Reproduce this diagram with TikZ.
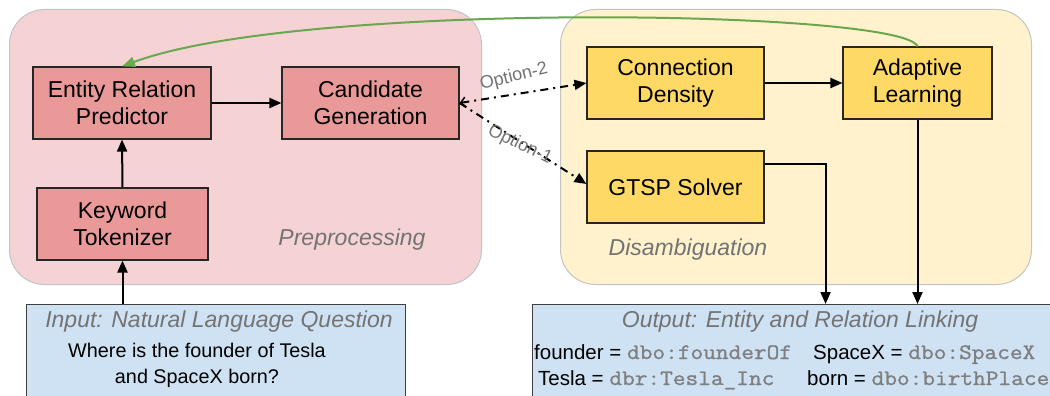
\documentclass[tikz,border=0pt]{standalone}
\usepackage{fontspec}
\setmainfont{Liberation Sans}
\newfontfamily\codefont[FakeStretch=1.12, FakeBold=1.2]{Latin Modern Mono}
\usetikzlibrary{arrows.meta}

\definecolor{prebg}{HTML}{F5D3D5}
\definecolor{disbg}{HTML}{FFF2CC}
\definecolor{redfill}{HTML}{EA9999}
\definecolor{yelfill}{HTML}{FFD966}
\definecolor{iofill}{HTML}{CFE2F3}
\definecolor{feedback}{HTML}{6AA84F}
\definecolor{lbl}{HTML}{737373}
\definecolor{codegray}{HTML}{7F7F7F}
\definecolor{framegray}{HTML}{C4C4C4}

\newcommand{\code}[1]{{\color{codegray}\fontsize{22}{24}\selectfont\codefont #1}}

\tikzset{
  group/.style={draw=framegray, line width=1pt, rounded corners=35pt, inner sep=0pt},
  stepbox/.style={draw=black!85, line width=1.1pt, inner sep=0pt, align=center,
    font=\fontsize{23}{26.5}\selectfont, minimum height=72pt},
  redstep/.style={stepbox, fill=redfill},
  yelstep/.style={stepbox, fill=yelfill},
  iopanel/.style={draw=black!75, line width=1.1pt, fill=iofill, inner sep=0pt},
  grouplabel/.style={font=\fontsize{23}{26}\selectfont\itshape, text=lbl, inner sep=0pt},
  textline/.style={font=\fontsize{20.5}{26}\selectfont, inner sep=0pt},
  arr/.style={-{Triangle[length=12pt,width=10pt]}, line width=2pt},
  opt/.style={line width=2pt, dash pattern=on 8pt off 5pt on 2pt off 5pt},
  optlabel/.style={font=\fontsize{18}{20}\selectfont, text=lbl, inner sep=0pt},
}

\begin{document}
\begin{tikzpicture}[x=1pt, y=-1pt]
\path[use as bounding box, clip] (0,0) rectangle (1050,396);
\fill[white] (0,0) rectangle (1050,396);

% stage containers
\node[group, fill=prebg, minimum width=472pt, minimum height=275pt, anchor=north west] (pre) at (9,9) {};
\node[group, fill=disbg, minimum width=471pt, minimum height=275pt, anchor=north west] (dis) at (560,9) {};
\node[grouplabel, anchor=base] (prelbl) at (352,245) {Preprocessing};
\node[grouplabel, anchor=base] (dislbl) at (688,255) {Disambiguation};

% preprocessing steps
\node[redstep, minimum width=178pt] (erp) at (122,103) {Entity Relation\\Predictor};
\node[redstep, minimum width=177pt] (cg) at (370.5,103) {Candidate\\Generation};
\node[redstep, minimum width=171pt] (kt) at (122.5,224) {Keyword\\Tokenizer};

% disambiguation steps
\node[yelstep, minimum width=177pt] (cd) at (675.5,83) {Connection\\Density};
\node[yelstep, minimum width=149pt] (al) at (917.5,83) {Adaptive\\Learning};
\node[yelstep, minimum width=177pt] (gtsp) at (675.5,187) {GTSP Solver};

% input and output panels
\node[iopanel, minimum width=379pt, minimum height=130pt, anchor=north west] (in) at (26,304) {};
\node[iopanel, minimum width=540pt, minimum height=130pt, anchor=north west] (out) at (532,304) {};

\node[grouplabel, anchor=base] (intitle) at (219,327) {Input: Natural Language Question};
\node[textline, font=\fontsize{19.8}{26}\selectfont, anchor=base, align=center] (question) at (197,383)
  {Where is the founder of Tesla\\and SpaceX born?};

\node[grouplabel, anchor=base] (outtitle) at (800,327) {Output: Entity and Relation Linking};
\node[textline, anchor=base west] (l1a) at (534,359) {founder = \code{dbo:founderOf}};
\node[textline, anchor=base west] (l1b) at (813,359) {SpaceX = \code{dbo:SpaceX}};
\node[textline, anchor=base west] (l2a) at (538,385) {Tesla = \code{dbr:Tesla\_Inc}};
\node[textline, anchor=base west] (l2b) at (807,385) {born = \code{dbo:birthPlace}};

% main flow
\draw[arr] (in.north -| kt.south) -- (kt.south);
\draw[arr] (kt.north) -- (erp.south);
\draw[arr] (erp.east) -- (cg.west);
\draw[arr] (cd.east) -- (al.west);
\draw[arr] ([yshift=23pt]gtsp.east) -| ([xshift=23pt]out.north);
\draw[arr] (al.south) -- (al.south |- out.north);

% the two disambiguation options
\draw[opt, {Straight Barb[length=5pt,width=10pt,line width=1.5pt]}-{Triangle[length=12pt,width=10pt]}]
  (cg.east) -- (cd.west);
\draw[opt, -{Triangle[length=12pt,width=10pt]}]
  (cg.east) -- ([yshift=3pt]gtsp.west);
\node[optlabel, rotate=14] (opt2) at (514,77) {Option-2};
\node[optlabel, rotate=-26] (opt1) at (520,145) {Option-1};

% feedback loop
\draw[feedback, line width=2pt, -{Triangle[length=13pt,width=10pt]}]
  (al.north) .. controls (905,10) and (300,0) .. (erp.north);
\end{tikzpicture}
\end{document}
